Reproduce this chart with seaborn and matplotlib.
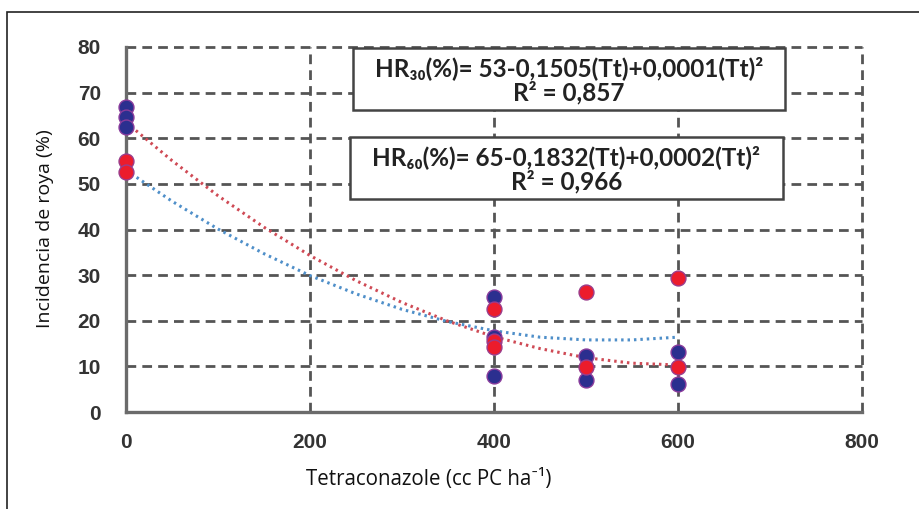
import pandas as pd
import matplotlib.pyplot as plt
import seaborn as sns
from matplotlib.patches import Rectangle

x_azul = [0, 0, 0, 400, 400, 400, 500, 500, 600, 600]
y_azul = [66.8, 64.6, 62.4, 25.3, 16.5, 7.8, 12.3, 7.1, 13.1, 6.1]
x_rojo = [0, 0, 400, 400, 400, 500, 500, 600, 600]
y_rojo = [55.0, 52.7, 22.6, 15.5, 14.2, 26.4, 9.8, 29.4, 9.8]

# lineas de tendencia
x_curva = [0, 50, 100, 150, 200, 250, 300, 350, 400, 450, 500, 550, 600]
y_curva_azul = [53.0, 46.2, 40.1, 34.7, 29.9, 25.9, 22.5, 19.8, 17.8, 16.4, 15.8, 15.8, 16.4]
y_curva_roja = [63.5, 55.1, 47.4, 40.5, 34.3, 28.8, 24.0, 19.9, 16.5, 13.9, 11.9, 10.7, 10.3]

x_ticks = [0, 200, 400, 600, 800]
y_ticks = [0, 10, 20, 30, 40, 50, 60, 70, 80]

eq_30 = 'HR₃₀(%)= 53-0,1505(Tt)+0,0001(Tt)²'
r2_30 = 'R² = 0,857'
eq_60 = 'HR₆₀(%)= 65-0,1832(Tt)+0,0002(Tt)²'
r2_60 = 'R² = 0,966'

azul = '#2b2f8f'
rojo = '#ec1c2c'

sns.set_style('white')
plt.rcParams['font.family'] = ['Open Sans', 'Lato', 'DejaVu Sans']

W, H = 920, 509
fig = plt.figure(figsize=(9.2, 5.09), dpi=100)
ax = fig.add_axes([126 / W, 1 - 412 / H, (862 - 126) / W, (412 - 47) / H])

df_curvas = pd.DataFrame({'x': x_curva + x_curva,
                          'y': y_curva_azul + y_curva_roja,
                          'serie': ['azul'] * len(x_curva) + ['rojo'] * len(x_curva)})
sns.lineplot(data=df_curvas, x='x', y='y', hue='serie',
             palette={'azul': '#4f8fc9', 'rojo': '#cf4a55'},
             linewidth=2.2, dashes=False, legend=False, ax=ax, zorder=3)
for ln in ax.lines:
    ln.set_linestyle((0, (0.8, 1.3)))

sns.scatterplot(x=x_azul, y=y_azul, color=azul, s=115, edgecolor='#8a3c9c',
                linewidth=1.0, ax=ax, zorder=4, clip_on=False)
sns.scatterplot(x=x_rojo, y=y_rojo, color=rojo, s=115, edgecolor='#9a3c8c',
                linewidth=1.0, ax=ax, zorder=5, clip_on=False)

ax.set_xlim(0, 800)
ax.set_ylim(0, 80)
ax.set_xticks(x_ticks)
ax.set_yticks(y_ticks)
ax.set_xlabel('')
ax.set_ylabel('')
ax.grid(True, color='#555555', linestyle=(0, (3.5, 2.2)), linewidth=2.0)
for gl in ax.get_xgridlines() + ax.get_ygridlines():
    gl.set_clip_on(False)
for side in ['top', 'right']:
    ax.spines[side].set_visible(False)
for side in ['left', 'bottom']:
    ax.spines[side].set_color('#6b6b6b')
    ax.spines[side].set_linewidth(2.4)
ax.tick_params(axis='both', length=0, labelsize=15, labelcolor='#333333')
ax.tick_params(axis='y', pad=18)
ax.tick_params(axis='x', pad=15)
for lab in ax.get_xticklabels() + ax.get_yticklabels():
    lab.set_fontweight('bold')
    lab.set_family(['Liberation Sans', 'DejaVu Sans'])

# cajas de ecuaciones
for (x0, y0, x1, y1), l1, l2 in [((353, 48, 785, 110), eq_30, r2_30),
                                  ((350, 137, 783, 199), eq_60, r2_60)]:
    fig.patches.append(Rectangle((x0 / W, 1 - y1 / H), (x1 - x0) / W, (y1 - y0) / H,
                                 transform=fig.transFigure, facecolor='white',
                                 edgecolor='#444444', linewidth=1.8, zorder=6))
    cx = (x0 + x1) / 2 / W
    fig.text(cx, 1 - (y0 + 20) / H, l1, ha='center', va='center', fontsize=17.5,
             fontweight='bold', color='#222222', zorder=7, family=['Lato', 'DejaVu Sans'])
    fig.text(cx, 1 - (y0 + 45) / H, l2, ha='center', va='center', fontsize=17.5,
             fontweight='bold', color='#222222', zorder=7, family=['Lato', 'DejaVu Sans'])

fig.text(45 / W, 1 - 229 / H, 'Incidencia de roya (%)', rotation=90, ha='center',
         va='center', fontsize=14, color='#111111')
fig.text(429 / W, 1 - 480 / H, 'Tetraconazole (cc PC ha⁻¹)',
         ha='center', va='center', fontsize=14.8, color='#111111')

# marco exterior
fig.patches.append(Rectangle((7.5 / W, -0.1), 1.2, 1 - 12 / H + 0.1,
                             transform=fig.transFigure, fill=False,
                             edgecolor='#222222', linewidth=1.2))

fig.savefig('out.png', dpi=100)
